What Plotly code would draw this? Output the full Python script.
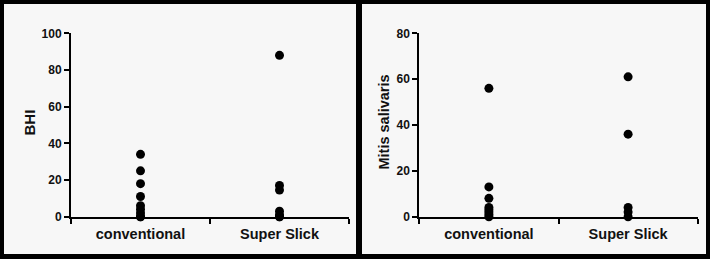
import plotly.graph_objects as go

categories = ["conventional", "Super Slick"]

# Left panel: BHI
bhi_conventional = [34, 25, 18, 11, 6, 4, 2, 0, 0]
bhi_superslick = [88, 17, 14.5, 3, 1, 0, 0]

# Right panel: Mitis salivaris
ms_conventional = [56, 13, 8, 4, 3, 2, 1, 0]
ms_superslick = [61, 36, 4, 2, 0]

left_yticks = [0, 20, 40, 60, 80, 100]
right_yticks = [0, 20, 40, 60, 80]

W, H = 710, 259
BG = "#f7f7f7"
FONT = "Arial, Liberation Sans, Helvetica, sans-serif"


def px(x):
    return x / W


def py(y):
    return 1 - y / H


fig = go.Figure()

marker = dict(color="black", size=9, symbol="circle")

fig.add_trace(go.Scatter(
    x=[categories[0]] * len(bhi_conventional) + [categories[1]] * len(bhi_superslick),
    y=bhi_conventional + bhi_superslick,
    mode="markers", marker=marker, cliponaxis=False,
    xaxis="x", yaxis="y", showlegend=False, hoverinfo="x+y"))

fig.add_trace(go.Scatter(
    x=[categories[0]] * len(ms_conventional) + [categories[1]] * len(ms_superslick),
    y=ms_conventional + ms_superslick,
    mode="markers", marker=marker, cliponaxis=False,
    xaxis="x2", yaxis="y2", showlegend=False, hoverinfo="x+y"))

xcommon = dict(
    type="category", categoryorder="array", categoryarray=categories,
    range=[-0.5, 1.5], tickson="boundaries", ticks="outside", ticklen=5,
    tickwidth=2, tickcolor="black", showline=True, linecolor="black",
    linewidth=2, showgrid=False, zeroline=False, fixedrange=True,
    automargin=False, ticklabelstandoff=3,
    tickfont=dict(family=FONT, size=14.5, color="#111", weight="bold"),
)
ycommon = dict(
    ticks="outside", ticklen=5, tickwidth=2, tickcolor="black",
    showline=True, linecolor="black", linewidth=2, showgrid=False,
    zeroline=False, fixedrange=True, automargin=False,
    tickfont=dict(family=FONT, size=12, color="#111", weight="bold"),
)

ydom = [py(216.7), py(33.3)]

fig.update_layout(
    width=W, height=H,
    margin=dict(l=0, r=0, t=0, b=0, pad=0, autoexpand=False),
    paper_bgcolor="black",
    plot_bgcolor=BG,
    xaxis=dict(domain=[px(71), px(349)], anchor="y", **xcommon),
    yaxis=dict(domain=ydom, anchor="x", range=[0, 100], tickvals=left_yticks, **ycommon),
    xaxis2=dict(domain=[px(419.3), px(697.7)], anchor="y2", **xcommon),
    yaxis2=dict(domain=ydom, anchor="x2", range=[0, 80], tickvals=right_yticks, **ycommon),
    shapes=[
        dict(type="rect", xref="paper", yref="paper", x0=px(4), x1=px(356),
             y0=py(254), y1=py(4), fillcolor=BG, line=dict(width=0), layer="below"),
        dict(type="rect", xref="paper", yref="paper", x0=px(362), x1=px(706),
             y0=py(254), y1=py(4), fillcolor=BG, line=dict(width=0), layer="below"),
    ],
    annotations=[
        dict(text="BHI", textangle=-90, xref="paper", yref="paper",
             x=px(29.5), y=py(123), xanchor="center", yanchor="middle",
             showarrow=False, font=dict(family=FONT, size=15, color="#111", weight="bold")),
        dict(text="Mitis salivaris", textangle=-90, xref="paper", yref="paper",
             x=px(383.5), y=py(122), xanchor="center", yanchor="middle",
             showarrow=False, font=dict(family=FONT, size=14.5, color="#111", weight="bold")),
    ],
)

fig.write_html("out.html")
